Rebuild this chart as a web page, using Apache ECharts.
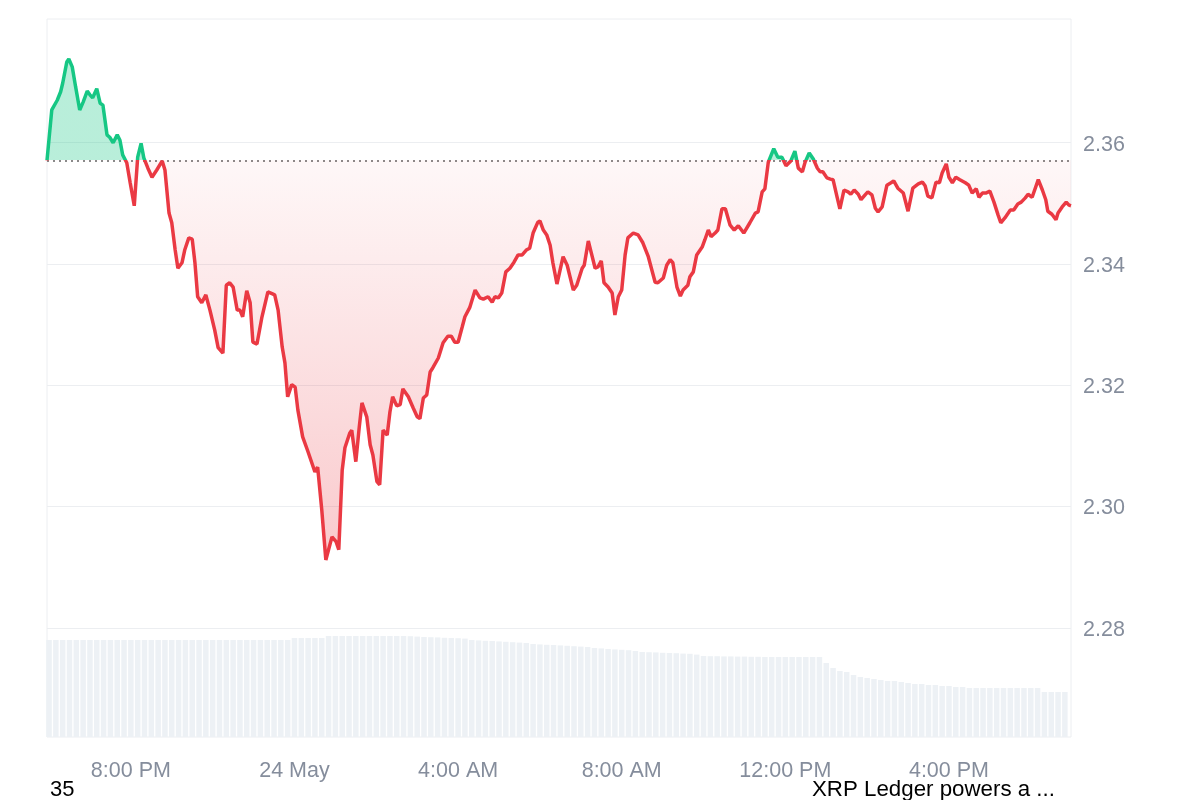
<!DOCTYPE html>
<html><head><meta charset="utf-8">
<script src="https://cdn.jsdelivr.net/npm/echarts@6/dist/echarts.min.js"></script>
<style>html,body{margin:0;padding:0;background:#fff}#chart{width:1200px;height:800px}</style>
</head><body><div id="chart"></div>
<script>
// minutes relative to 24 May 00:00
const priceMinutes = [-363,-356,-348,-343,-340,-334,-331,-326,-321,-315,-310,-304,-300,-296,-290,-285,-281,-275,-271,-266,-260,-256,-252,-246,-241,-235,-230,-225,-221,-215,-209,-202,-194,-190,-184,-180,-175,-171,-165,-161,-155,-150,-146,-142,-136,-130,-124,-117,-112,-105,-100,-95,-90,-84,-80,-76,-70,-65,-61,-55,-48,-39,-33,-29,-24,-18,-14,-10,-4,1,5,12,20,30,34,40,46,55,61,65,70,74,81,84,90,95,99,106,111,115,121,125,130,136,140,144,150,155,159,167,174,180,184,189,194,199,203,211,218,225,230,235,240,246,250,257,265,272,277,284,290,294,299,304,310,316,322,328,334,340,345,350,357,360,365,370,375,379,385,394,400,409,414,422,425,431,435,441,445,450,454,460,466,470,475,480,485,489,497,504,511,519,529,533,541,546,551,555,561,566,570,577,580,585,590,598,602,607,611,617,621,627,632,639,645,651,659,668,676,680,686,690,695,703,709,715,721,728,734,739,745,749,755,761,767,771,775,781,786,790,796,800,806,812,816,821,827,831,837,841,847,852,856,862,869,875,879,885,893,900,907,915,921,925,929,935,941,946,950,956,960,965,970,976,984,989,994,1000,1004,1009,1014,1020,1026,1032,1036,1042,1050,1055,1061,1066,1072,1076,1082,1091,1097,1102,1105,1111,1117,1120,1126,1132,1136,1139];
const prices = [2.3571,2.3654,2.3670,2.3684,2.3698,2.3733,2.3738,2.3725,2.3692,2.3654,2.3667,2.3685,2.3679,2.3674,2.3689,2.3665,2.3662,2.3613,2.3609,2.3600,2.3613,2.3604,2.3580,2.3567,2.3534,2.3496,2.3576,2.3599,2.3575,2.3558,2.3543,2.3555,2.3570,2.3555,2.3484,2.3468,2.3423,2.3393,2.3402,2.3423,2.3443,2.3441,2.3402,2.3346,2.3336,2.3349,2.3324,2.3291,2.3262,2.3253,2.3365,2.3369,2.3362,2.3324,2.3324,2.3313,2.3356,2.3336,2.3271,2.3268,2.3311,2.3354,2.3351,2.3349,2.3324,2.3263,2.3237,2.3181,2.3201,2.3197,2.3159,2.3115,2.3090,2.3057,2.3065,2.2995,2.2912,2.2950,2.2942,2.2929,2.3060,2.3097,2.3121,2.3126,2.3074,2.3131,2.3171,2.3148,2.3102,2.3085,2.3041,2.3036,2.3126,2.3118,2.3156,2.3181,2.3166,2.3168,2.3194,2.3181,2.3163,2.3148,2.3145,2.3179,2.3184,2.3222,2.3229,2.3245,2.3270,2.3281,2.3281,2.3271,2.3271,2.3296,2.3313,2.3328,2.3357,2.3344,2.3342,2.3346,2.3337,2.3346,2.3344,2.3352,2.3387,2.3393,2.3403,2.3415,2.3415,2.3423,2.3426,2.3451,2.3469,2.3471,2.3456,2.3448,2.3431,2.3402,2.3367,2.3412,2.3398,2.3357,2.3365,2.3393,2.3398,2.3438,2.3420,2.3393,2.3395,2.3405,2.3369,2.3362,2.3352,2.3316,2.3346,2.3357,2.3415,2.3443,2.3451,2.3448,2.3435,2.3412,2.3370,2.3369,2.3377,2.3398,2.3407,2.3402,2.3362,2.3347,2.3357,2.3365,2.3379,2.3387,2.3415,2.3428,2.3440,2.3456,2.3445,2.3451,2.3456,2.3491,2.3491,2.3464,2.3456,2.3463,2.3451,2.3468,2.3484,2.3486,2.3519,2.3524,2.3568,2.3590,2.3576,2.3576,2.3562,2.3570,2.3586,2.3558,2.3552,2.3568,2.3583,2.3573,2.3558,2.3552,2.3552,2.3542,2.3540,2.3539,2.3510,2.3491,2.3522,2.3519,2.3515,2.3522,2.3515,2.3506,2.3514,2.3519,2.3514,2.3492,2.3486,2.3494,2.3530,2.3534,2.3537,2.3525,2.3517,2.3487,2.3525,2.3532,2.3535,2.3529,2.3512,2.3509,2.3535,2.3534,2.3550,2.3565,2.3543,2.3534,2.3543,2.3539,2.3534,2.3530,2.3517,2.3524,2.3510,2.3517,2.3517,2.3520,2.3502,2.3481,2.3468,2.3476,2.3489,2.3489,2.3499,2.3502,2.3509,2.3515,2.3510,2.3539,2.3522,2.3506,2.3487,2.3482,2.3473,2.3484,2.3494,2.3502,2.3497,2.3496];
const volumeMinutes = [-360,-350,-340,-330,-320,-310,-300,-290,-280,-270,-260,-250,-240,-230,-220,-210,-200,-190,-180,-170,-160,-150,-140,-130,-120,-110,-100,-90,-80,-70,-60,-50,-40,-30,-20,-10,0,10,20,30,40,50,60,70,80,90,100,110,120,130,140,150,160,170,180,190,200,210,220,230,240,250,260,270,280,290,300,310,320,330,340,350,360,370,380,390,400,410,420,430,440,450,460,470,480,490,500,510,520,530,540,550,560,570,580,590,600,610,620,630,640,650,660,670,680,690,700,710,720,730,740,750,760,770,780,790,800,810,820,830,840,850,860,870,880,890,900,910,920,930,940,950,960,970,980,990,1000,1010,1020,1030,1040,1050,1060,1070,1080,1090,1100,1110,1120,1130];
const volumes = [4850,4850,4850,4850,4850,4850,4850,4850,4850,4850,4850,4850,4850,4850,4850,4850,4850,4850,4850,4850,4850,4850,4850,4850,4850,4850,4850,4850,4850,4850,4850,4850,4850,4850,4850,4850,4950,4950,4950,4950,4950,5050,5050,5050,5050,5050,5050,5050,5050,5050,5050,5050,5050,5040,5020,5000,4990,4980,4960,4950,4940,4920,4850,4830,4810,4800,4780,4760,4740,4720,4700,4650,4630,4610,4600,4580,4560,4540,4520,4500,4450,4430,4400,4380,4360,4340,4300,4250,4240,4230,4210,4200,4190,4170,4160,4120,4050,4040,4040,4030,4030,4020,4020,4010,4010,4000,4000,4000,4000,4000,4000,4000,4000,4000,3700,3450,3300,3250,3100,3000,2950,2900,2850,2800,2800,2750,2700,2650,2650,2600,2600,2550,2550,2500,2500,2450,2450,2450,2450,2450,2450,2450,2450,2450,2450,2450,2250,2250,2250,2250];
const xTickMinutes = [-240, 0, 240, 480, 720, 960];
const xTickLabels = ['8:00 PM', '24 May', '4:00 AM', '8:00 AM', '12:00 PM', '4:00 PM'];
const yTickValues = [2.28, 2.30, 2.32, 2.34, 2.36];
const footerLeftText = '35';
const footerRightText = 'XRP Ledger powers a ...';

const base = prices[0];
const maxP = Math.max(...prices), minP = Math.min(...prices);
const split = (maxP - base) / (maxP - minP);
const FONT = '"Liberation Sans", Arial, Helvetica, sans-serif';
const LABEL_COLOR = '#858d9c';

const chart = echarts.init(document.getElementById('chart'), null, {renderer: 'canvas'});
const option = {
  animation: false,
  backgroundColor: '#ffffff',
  textStyle: {fontFamily: FONT},
  grid: [
    {left: 47, right: 129, top: 19, bottom: 63, show: true, borderColor: '#eceef1', borderWidth: 1, outerBoundsMode: 'none', containLabel: false},
    {left: 47, right: 129, top: 620, bottom: 63, outerBoundsMode: 'none', containLabel: false}
  ],
  xAxis: [
    {type: 'value', gridIndex: 0, min: -363, max: 1139,
     axisLine: {show: false}, axisTick: {show: false}, splitLine: {show: false},
     axisLabel: {customValues: xTickMinutes, formatter: v => xTickLabels[xTickMinutes.indexOf(v)],
       color: LABEL_COLOR, fontSize: 21.5, margin: 23, fontFamily: FONT}},
    {type: 'value', gridIndex: 1, min: -363, max: 1139, show: false}
  ],
  yAxis: [
    {type: 'value', gridIndex: 0, position: 'right', min: 2.262, max: 2.3804, scale: true,
     axisLine: {show: false}, axisTick: {show: false, customValues: yTickValues},
     splitLine: {show: true, lineStyle: {color: '#eceef1', width: 1}},
     axisLabel: {customValues: yTickValues, formatter: v => v.toFixed(2), color: LABEL_COLOR,
       fontSize: 21.5, margin: 12, fontFamily: FONT, verticalAlign: 'top', lineHeight: 4}},
    {type: 'value', gridIndex: 1, min: 0, max: 5850, show: false}
  ],
  visualMap: {
    show: false, type: 'piecewise', seriesIndex: 0, dimension: 1,
    pieces: [{gt: base, lte: 10, color: '#16c784'}, {gt: 0, lte: base, color: '#ea3943'}]
  },
  series: [
    {
      type: 'line', xAxisIndex: 0, yAxisIndex: 0, z: 5,
      data: priceMinutes.map((m, i) => [m, prices[i]]),
      symbol: 'none', showSymbol: false,
      lineStyle: {width: 3.5},
      areaStyle: {
        origin: base, opacity: 1,
        color: new echarts.graphic.LinearGradient(0, 0, 0, 1, [
          {offset: 0, color: 'rgba(22,199,132,0.30)'},
          {offset: split, color: 'rgba(22,199,132,0.30)'},
          {offset: split, color: 'rgba(234,57,67,0.04)'},
          {offset: 1, color: 'rgba(234,57,67,0.27)'}
        ])
      },
      markLine: {
        silent: true, symbol: 'none', label: {show: false}, precision: 4,
        lineStyle: {type: [2, 4], color: '#8a8a8a', width: 2},
        data: [{yAxis: base}]
      }
    },
    {
      type: 'bar', xAxisIndex: 1, yAxisIndex: 1, silent: true,
      data: volumeMinutes.map((m, i) => [m, volumes[i]]),
      barWidth: 5.5, itemStyle: {color: '#edf1f5'}
    }
  ],
  graphic: [
    {type: 'text', x: 50, y: 790, style: {text: footerLeftText, fill: '#000', fontSize: 22, fontFamily: FONT, verticalAlign: 'middle'}},
    {type: 'text', x: 812, y: 790, style: {text: footerRightText, fill: '#000', fontSize: 22.3, fontFamily: FONT, verticalAlign: 'middle'}}
  ]
};
chart.setOption(option);
</script>
</body></html>
